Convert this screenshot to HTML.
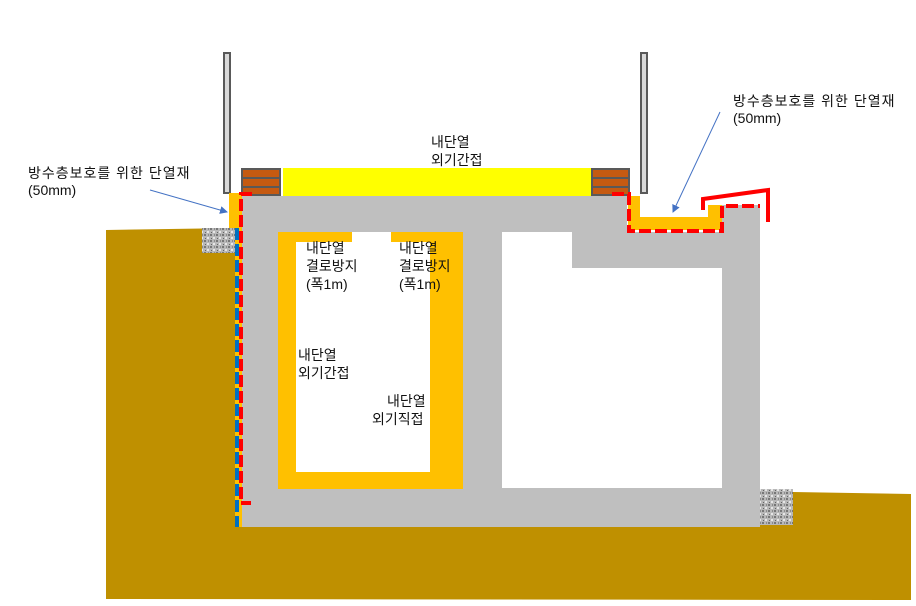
<!DOCTYPE html>
<html><head><meta charset="utf-8"><style>
html,body{margin:0;padding:0;background:#fff}
svg{display:block}
text{font-family:"Liberation Sans","Noto Sans CJK KR",sans-serif;font-size:14px;fill:#111}
.w{letter-spacing:1px}
</style></head><body>
<svg width="916" height="606" viewBox="0 0 916 606" xmlns="http://www.w3.org/2000/svg">
<defs>
<pattern id="grav" width="6" height="6" patternUnits="userSpaceOnUse">
<rect width="6" height="6" fill="#b8b8b8"/>
<rect x="0" y="0" width="2" height="2" fill="#777"/>
<rect x="3" y="3" width="2" height="2" fill="#e6e6e6"/>
<rect x="4" y="0" width="1" height="2" fill="#8a8a8a"/>
<rect x="1" y="4" width="1" height="1" fill="#666"/>
</pattern>
<marker id="ar" markerWidth="8" markerHeight="8" refX="7" refY="4" orient="auto" markerUnits="userSpaceOnUse"><path d="M0,0 L8,4 L0,8 z" fill="#4472c4"/></marker>
</defs>
<polygon points="106,230 236,228 236,527 760,527 760,490 793,492 911,494 911,600 106,599" fill="#bf9000"/>
<polygon points="242,196 627,196 627,232 722,232 722,205 760,205 760,527 242,527" fill="#bfbfbf"/>
<rect x="278" y="232" width="185" height="257" fill="#ffc000"/>
<rect x="296" y="242" width="134" height="230" fill="#fff"/>
<rect x="352" y="232" width="39" height="12" fill="#fff"/>
<rect x="502" y="232" width="220" height="256" fill="#fff"/>
<rect x="572" y="232" width="150" height="36" fill="#bfbfbf"/>
<polygon points="628,196 640,196 640,217 708,217 708,205 722,205 722,230 628,230" fill="#ffc000"/>
<rect x="283" y="168" width="308" height="28" fill="#ffff00"/>
<g stroke="#595959" stroke-width="2">
<rect x="242" y="169" width="38" height="26" fill="#c55a11"/>
<rect x="592" y="169" width="37" height="26" fill="#c55a11"/>
</g>
<g stroke="#595959" stroke-width="2"><line x1="242" y1="178" x2="280" y2="178"/><line x1="242" y1="187" x2="280" y2="187"/><line x1="592" y1="178" x2="629" y2="178"/><line x1="592" y1="187" x2="629" y2="187"/></g>
<rect x="224" y="53" width="6" height="140" fill="#d9d9d9" stroke="#595959" stroke-width="2"/>
<rect x="641" y="53" width="6" height="140" fill="#d9d9d9" stroke="#595959" stroke-width="2"/>
<rect x="229" y="193" width="13" height="37" fill="#ffc000"/>
<rect x="235" y="228" width="7" height="299" fill="#ffc000"/>
<rect x="202" y="228" width="33" height="25" fill="url(#grav)"/>
<rect x="760" y="489" width="33" height="36" fill="url(#grav)"/>
<line x1="237" y1="228" x2="237" y2="527" stroke="#0070c0" stroke-width="4" stroke-dasharray="12,4"/>
<path d="M252,194 L241,194 L241,503 L251,503" fill="none" stroke="#ff0000" stroke-width="4" stroke-dasharray="12,4"/>
<path d="M612,194 L629,194 L629,231 L722,231 L722,206 L760,206" fill="none" stroke="#ff0000" stroke-width="4" stroke-dasharray="12,4"/>
<polyline points="703,210 703,199 768,190 768,222" fill="none" stroke="#ff0000" stroke-width="4"/>
<line x1="150" y1="190" x2="227" y2="212" stroke="#4472c4" stroke-width="1" marker-end="url(#ar)"/>
<line x1="720" y1="112" x2="673" y2="212" stroke="#4472c4" stroke-width="1" marker-end="url(#ar)"/>
<text class="w" x="28" y="178">방수층보호를 위한 단열재</text>
<text x="28" y="195">(50mm)</text>
<text class="w" x="733" y="106">방수층보호를 위한 단열재</text>
<text x="733" y="123">(50mm)</text>
<text x="431" y="147">내단열</text>
<text x="431" y="165">외기간접</text>
<text x="306" y="253">내단열</text>
<text x="306" y="271">결로방지</text>
<text x="306" y="289">(폭1m)</text>
<text x="399" y="253">내단열</text>
<text x="399" y="271">결로방지</text>
<text x="399" y="289">(폭1m)</text>
<text x="298" y="360">내단열</text>
<text x="298" y="378">외기간접</text>
<text x="387" y="406">내단열</text>
<text x="372" y="424">외기직접</text>
</svg>
</body></html>
